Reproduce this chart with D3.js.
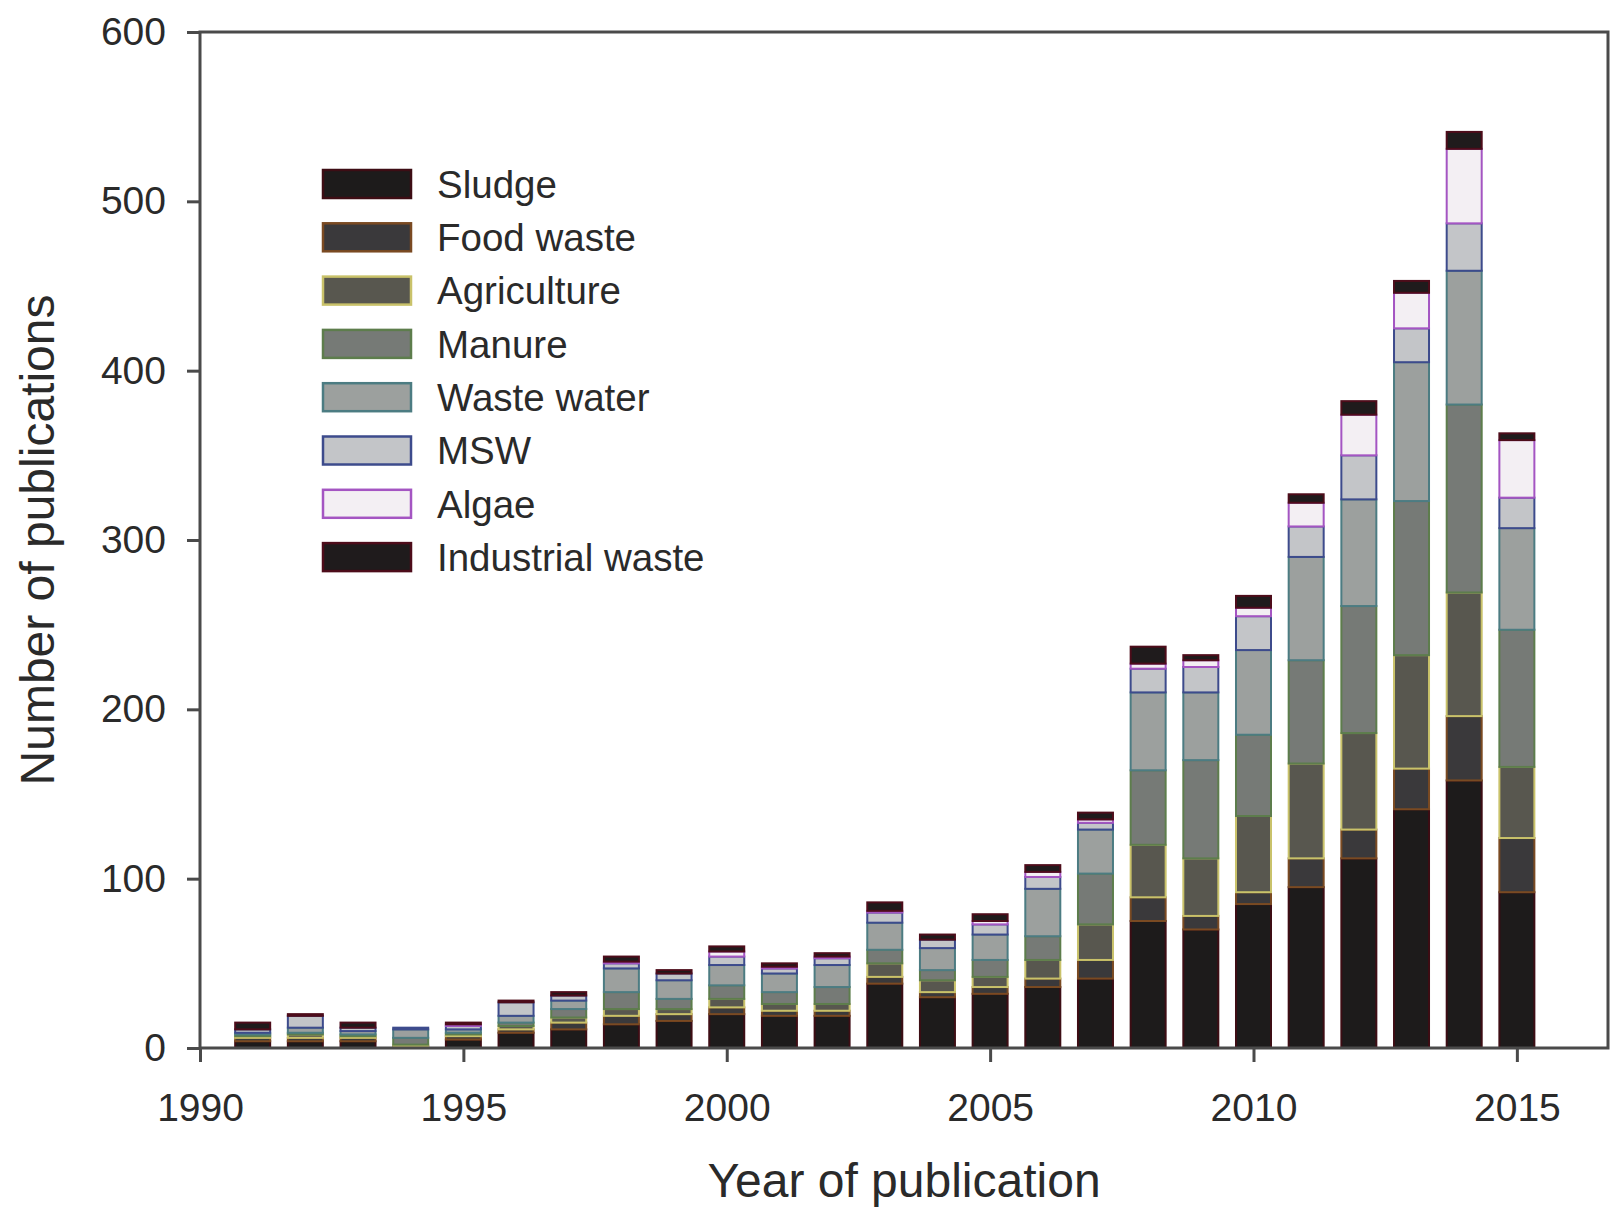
<!DOCTYPE html>
<html>
<head>
<meta charset="utf-8">
<script src="https://cdn.jsdelivr.net/npm/d3@7"></script>
<style>
  body { margin: 0; background: #fff; }
  svg { display: block; font-family: "Liberation Sans", Arial, sans-serif; }
</style>
</head>
<body>
<svg id="chart" width="1612" height="1209"></svg>
<script>
// ---- Data ----
const years = [1991,1992,1993,1994,1995,1996,1997,1998,1999,2000,2001,2002,2003,2004,2005,2006,2007,2008,2009,2010,2011,2012,2013,2014,2015];
const seriesNames = ["Sludge","Food waste","Agriculture","Manure","Waste water","MSW","Algae","Industrial waste"];
const sludge      = [4,4,4,1,5,9,11,14,16,20,19,19,38,30,32,36,41,75,70,85,95,112,141,158,92];
const foodWaste   = [2,2,2,0,2,2,4,5,4,4,3,3,4,3,4,5,11,14,8,7,17,17,24,38,32];
const agriculture = [1,2,1,1,1,2,3,4,3,5,4,4,8,7,6,11,21,31,34,45,56,57,67,73,42];
const manure      = [1,1,1,4,1,2,5,10,6,8,7,10,8,6,10,14,30,44,58,48,61,75,91,111,81];
const wasteWater  = [1,3,2,5,2,4,5,14,11,12,11,13,16,13,15,28,26,46,40,50,61,63,82,79,60];
const msw         = [2,7,2,1,2,8,3,3,4,5,3,4,6,5,6,7,4,14,15,20,18,26,20,28,18];
const algae       = [0,0,0,0,1,0,0,1,0,3,1,1,1,0,2,3,2,3,4,5,14,24,21,44,34];
const industrial  = [4,1,3,0,1,1,2,3,2,3,2,2,5,3,4,4,4,10,3,7,5,8,7,10,4];
const yTicks = [0,100,200,300,400,500,600];
const xTicks = [1990,1995,2000,2005,2010,2015];

// ---- Styles ----
const fills   = ["#1d1b1b","#3a393b","#58574f","#767a76","#9ca09e","#c3c5c8","#f3eff3","#1f1b1c"];
const strokes = ["#3d0d14","#7a4a22","#c9c26a","#5d7d4c","#4c7c82","#3d4b8c","#a455c2","#4d0c1a"];

const table = years.map((yr, i) => ({
  year: yr,
  "Sludge": sludge[i], "Food waste": foodWaste[i], "Agriculture": agriculture[i],
  "Manure": manure[i], "Waste water": wasteWater[i], "MSW": msw[i],
  "Algae": algae[i], "Industrial waste": industrial[i]
}));

const svg = d3.select("#chart");
const L = 200, R = 1608, T = 32, B = 1048;

const x = d3.scaleLinear().domain([1990, 2016.73]).range([L, R]);
const y = d3.scaleLinear().domain([0, 600]).range([B, T]);

const stack = d3.stack().keys(seriesNames);
const stacked = stack(table);

const barW = 35;
const g = svg.append("g");
stacked.forEach((layer, k) => {
  g.append("g")
    .selectAll("rect")
    .data(layer.filter(d => d[1] - d[0] > 0))
    .join("rect")
    .attr("x", d => x(d.data.year) - barW / 2)
    .attr("y", d => y(d[1]))
    .attr("width", barW)
    .attr("height", d => y(d[0]) - y(d[1]))
    .attr("fill", fills[k])
    .attr("stroke", strokes[k])
    .attr("stroke-width", 2);
});

// Frame
const axisColor = "#4a4a4a";
svg.append("path")
  .attr("d", `M${L},${B}V${T}H${R}V${B}H${L}`)
  .attr("fill", "none").attr("stroke", axisColor).attr("stroke-width", 3);

// Axes
const yAxis = d3.axisLeft(y).tickValues(yTicks).tickSize(13).tickPadding(21).tickFormat(d3.format("d"));
const xAxis = d3.axisBottom(x).tickValues(xTicks).tickSize(14).tickPadding(31).tickFormat(d3.format("d"));

const ya = svg.append("g").attr("transform", `translate(${L},0)`).call(yAxis);
const xa = svg.append("g").attr("transform", `translate(0,${B})`).call(xAxis);
[ya, xa].forEach(a => {
  a.select(".domain").remove();
  a.selectAll("line").attr("stroke", axisColor).attr("stroke-width", 3);
  a.selectAll("text").attr("fill", "#2a2a2a").style("font-size", "39px")
    .style("font-family", '"Liberation Sans", Arial, sans-serif');
});

// Axis titles
svg.append("text")
  .attr("x", (L + R) / 2).attr("y", 1197)
  .attr("text-anchor", "middle").attr("fill", "#2a2a2a")
  .style("font-size", "48px")
  .text("Year of publication");

svg.append("text")
  .attr("transform", `translate(54,${(T + B) / 2}) rotate(-90)`)
  .attr("text-anchor", "middle").attr("fill", "#2a2a2a")
  .style("font-size", "48px")
  .text("Number of publications");

// Legend
const lg = svg.append("g").attr("transform", "translate(323,170)");
const row = lg.selectAll("g").data(seriesNames).join("g")
  .attr("transform", (d, i) => `translate(0,${i * 53.3})`);
row.append("rect")
  .attr("width", 88).attr("height", 28)
  .attr("fill", (d, i) => fills[i])
  .attr("stroke", (d, i) => strokes[i]).attr("stroke-width", 2.5);
row.append("text")
  .attr("x", 114).attr("y", 14).attr("dy", "0.36em")
  .attr("fill", "#2a2a2a").style("font-size", "38.5px")
  .text(d => d);
</script>
</body>
</html>
